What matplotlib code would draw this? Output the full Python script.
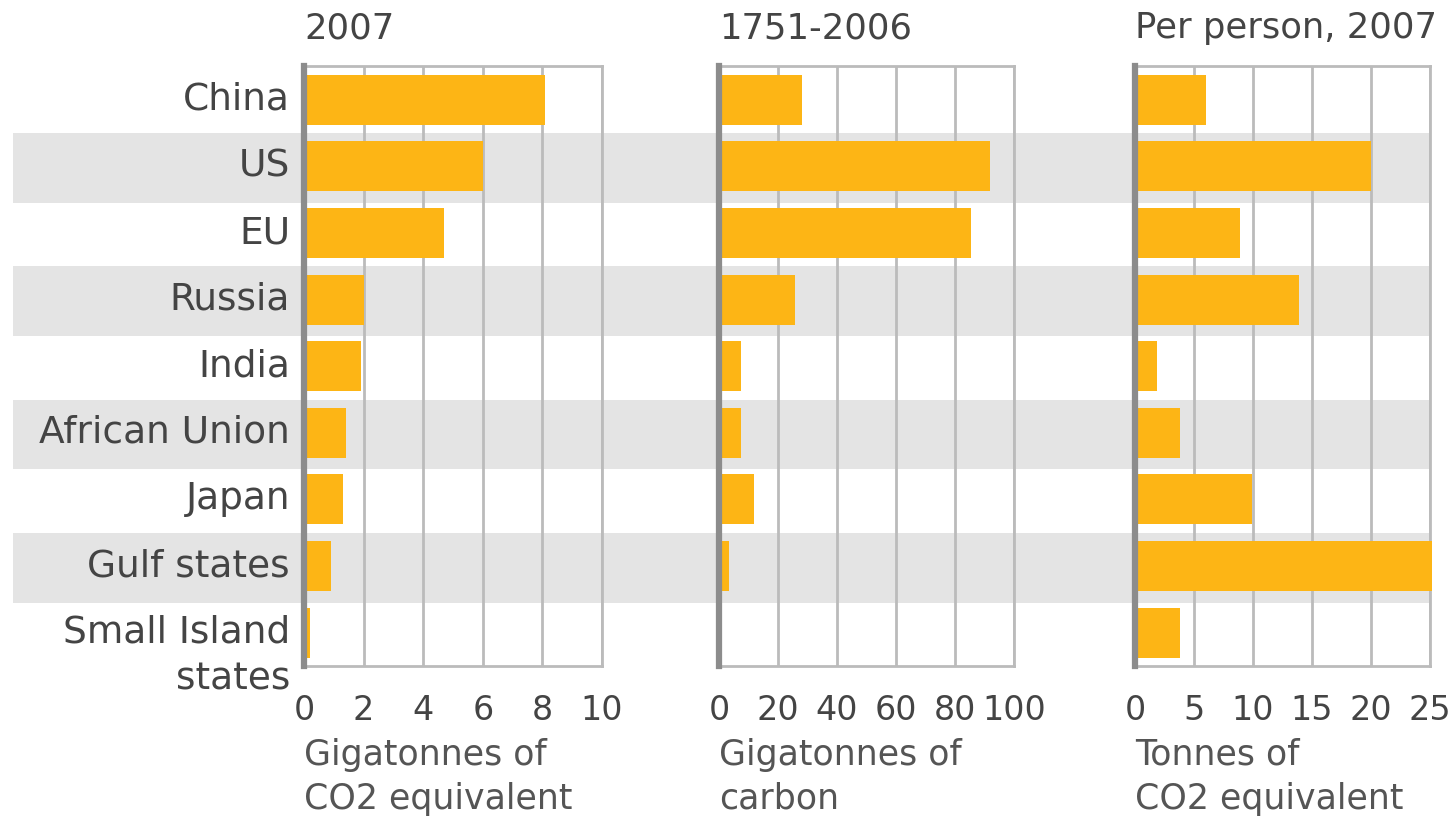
import matplotlib
matplotlib.use('Agg')
import matplotlib.pyplot as plt
from matplotlib.patches import Rectangle
from matplotlib.transforms import blended_transform_factory

# data
countries = ['China', 'US', 'EU', 'Russia', 'India', 'African Union',
             'Japan', 'Gulf states', 'Small Island\nstates']
emissions_2007 = [8.1, 6.0, 4.7, 2.0, 1.9, 1.4, 1.3, 0.9, 0.2]
cumulative_1751_2006 = [28, 92, 85.5, 25.7, 7.6, 7.6, 12, 3.5, 1.1]
per_person_2007 = [6.0, 20.0, 8.9, 13.9, 1.9, 3.8, 9.9, 25.2, 3.8]

titles = ['2007', '1751-2006', 'Per person, 2007']
xlabels = ['Gigatonnes of\nCO2 equivalent', 'Gigatonnes of\ncarbon', 'Tonnes of\nCO2 equivalent']
ticks1 = [0, 2, 4, 6, 8, 10]
ticks2 = [0, 20, 40, 60, 80, 100]
ticks3 = [0, 5, 10, 15, 20, 25]

bar_col = '#FDB515'
band_col = '#E4E4E4'
grid_col = '#BBBBBB'
txt_col = '#444444'

W, H = 1455, 817
top, bot = 66.5, 666
fig = plt.figure(figsize=(W/100, H/100), dpi=100)

def make_ax(left, right):
    return fig.add_axes([left/W, 1-bot/H, (right-left)/W, (bot-top)/H])

axes = [make_ax(304, 602), make_ax(719, 1014), make_ax(1135, 1430)]
series = [emissions_2007, cumulative_1751_2006, per_person_2007]
tick_sets = [ticks1, ticks2, ticks3]

ypos = list(range(len(countries)))

for ax, vals, ticks, title, xl in zip(axes, series, tick_sets, titles, xlabels):
    ax.set_facecolor('none')
    ax.barh(ypos, vals, height=0.75, color=bar_col, zorder=3, clip_on=False)
    ax.set_xlim(ticks[0], ticks[-1])
    ax.set_ylim(len(countries)-0.5, -0.5)
    ax.set_xticks(ticks)
    ax.set_xticklabels([str(t) for t in ticks])
    ax.set_yticks([])
    ax.tick_params(axis='x', length=0, pad=20, labelsize=24, labelcolor=txt_col)
    ax.grid(axis='x', color=grid_col, linewidth=2, zorder=1)
    ax.set_axisbelow(True)
    for s in ['top', 'bottom', 'right']:
        ax.spines[s].set_color(grid_col)
        ax.spines[s].set_linewidth(2)
    ax.spines['left'].set_color('#8C8C8C')
    ax.spines['left'].set_linewidth(4.5)
    ax.spines['left'].set_zorder(5)
    ax.text(0, 1.064, title, transform=ax.transAxes, ha='left', va='center',
            fontsize=25.5, color=txt_col)
    ax.text(0, -0.12, xl, transform=ax.transAxes, ha='left', va='top',
            fontsize=25, color='#555555', linespacing=1.36)

# row labels
ax1 = axes[0]
for i, name in enumerate(countries):
    if '\n' in name:
        ax1.annotate(name, xy=(0, i), xycoords=('axes fraction', 'data'),
                     xytext=(-10, 13), textcoords='offset points',
                     ha='right', va='top', fontsize=27, color=txt_col,
                     multialignment='right', linespacing=1.4)
    else:
        ax1.annotate(name, xy=(0, i), xycoords=('axes fraction', 'data'),
                     xytext=(-10, 0), textcoords='offset points',
                     ha='right', va='center', fontsize=27, color=txt_col)

# grey bands on every other row, across all panels
trans = blended_transform_factory(fig.transFigure, ax1.transData)
for i in range(1, len(countries), 2):
    rect = Rectangle((13/W, i-0.5), (1430-13)/W, 1.05, transform=trans,
                     facecolor=band_col, edgecolor='none', zorder=-1)
    fig.add_artist(rect)

fig.savefig('out.png', dpi=100)
